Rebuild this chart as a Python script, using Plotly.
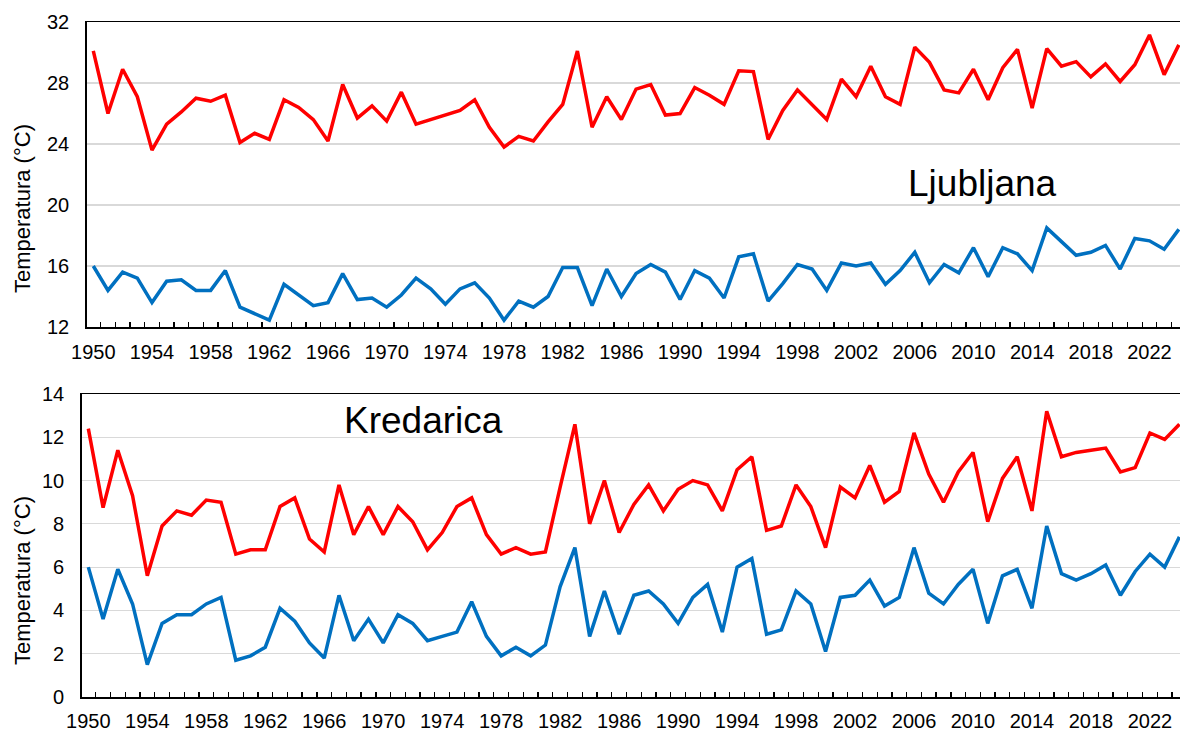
import plotly.graph_objects as go

years = list(range(1950, 2025))

lj_red = [30.1, 26.0, 28.9, 27.1, 23.6, 25.3, 26.1, 27.0, 26.8, 27.2,
          24.1, 24.7, 24.3, 26.9, 26.4, 25.6, 24.2, 27.9, 25.7, 26.5,
          25.5, 27.4, 25.3, 25.6, 25.9, 26.2, 26.9, 25.1, 23.8, 24.5,
          24.2, 25.45, 26.6, 30.1, 25.1, 27.1, 25.6, 27.6, 27.9, 25.9,
          26.0, 27.7, 27.2, 26.6, 28.8, 28.75, 24.3, 26.2, 27.55, 26.6,
          25.6, 28.25, 27.1, 29.1, 27.1, 26.6, 30.35, 29.35, 27.55, 27.35,
          28.9, 26.9, 29.0, 30.2, 26.35, 30.25, 29.1, 29.4, 28.4, 29.25,
          28.1, 29.2, 31.15, 28.55, 30.5]

lj_blue = [16.0, 14.4, 15.6, 15.2, 13.6, 15.0, 15.1, 14.4, 14.4, 15.7,
           13.3, 12.9, 12.45, 14.8, 14.1, 13.4, 13.6, 15.5, 13.8, 13.9,
           13.3, 14.1, 15.2, 14.5, 13.5, 14.5, 14.9, 13.9, 12.45, 13.7,
           13.3, 14.0, 15.9, 15.9, 13.4, 15.8, 14.0, 15.5, 16.1, 15.6,
           13.8, 15.7, 15.2, 13.9, 16.6, 16.8, 13.7, 14.85, 16.1, 15.8,
           14.4, 16.2, 16.0, 16.2, 14.8, 15.7, 16.9, 14.9, 16.1, 15.55,
           17.2, 15.3, 17.2, 16.8, 15.7, 18.5, 17.6, 16.7, 16.9, 17.35,
           15.8, 17.8, 17.65, 17.1, 18.4]

kr_red = [12.4, 8.75, 11.4, 9.3, 5.6, 7.9, 8.6, 8.4, 9.1, 9.0,
          6.6, 6.8, 6.8, 8.8, 9.2, 7.3, 6.7, 9.8, 7.5, 8.8,
          7.5, 8.8, 8.1, 6.8, 7.6, 8.8, 9.2, 7.5, 6.6, 6.9,
          6.6, 6.7, 9.7, 12.6, 8.0, 10.0, 7.6, 8.9, 9.8, 8.6,
          9.6, 10.0, 9.8, 8.6, 10.5, 11.1, 7.7, 7.9, 9.8, 8.8,
          6.9, 9.7, 9.2, 10.7, 9.0, 9.5, 12.2, 10.3, 9.0, 10.4,
          11.3, 8.1, 10.1, 11.1, 8.6, 13.2, 11.1, 11.3, 11.4, 11.5,
          10.4, 10.6, 12.2, 11.9, 12.6]

kr_blue = [6.0, 3.6, 5.9, 4.3, 1.5, 3.4, 3.8, 3.8, 4.3, 4.6,
           1.7, 1.9, 2.3, 4.1, 3.5, 2.5, 1.8, 4.7, 2.6, 3.6,
           2.5, 3.8, 3.4, 2.6, 2.8, 3.0, 4.4, 2.8, 1.9, 2.3,
           1.9, 2.4, 5.1, 6.9, 2.8, 4.9, 2.9, 4.7, 4.9, 4.3,
           3.4, 4.6, 5.2, 3.0, 6.0, 6.4, 2.9, 3.1, 4.9, 4.3,
           2.1, 4.6, 4.7, 5.4, 4.2, 4.6, 6.9, 4.8, 4.3, 5.2,
           5.9, 3.4, 5.6, 5.9, 4.1, 7.9, 5.7, 5.4, 5.7, 6.1,
           4.7, 5.8, 6.6, 6.0, 7.4]

label_years = list(range(1950, 2023, 4))
y_title = "Temperatura (°C)"
station_top = "Ljubljana"
station_bottom = "Kredarica"

RED = "#FF0000"
BLUE = "#0070C0"
FONT = "Liberation Sans, Arial, sans-serif"
W, H = 1180, 731


def px(x):
    return x / W


def py(y):
    return 1 - y / H


fig = go.Figure()
fig.add_trace(go.Scatter(x=years, y=lj_red, mode="lines", line=dict(color=RED, width=3.5),
                         xaxis="x", yaxis="y", showlegend=False))
fig.add_trace(go.Scatter(x=years, y=lj_blue, mode="lines", line=dict(color=BLUE, width=3.5),
                         xaxis="x", yaxis="y", showlegend=False))
fig.add_trace(go.Scatter(x=years, y=kr_red, mode="lines", line=dict(color=RED, width=3.5),
                         xaxis="x2", yaxis="y2", showlegend=False))
fig.add_trace(go.Scatter(x=years, y=kr_blue, mode="lines", line=dict(color=BLUE, width=3.5),
                         xaxis="x2", yaxis="y2", showlegend=False))

minor_vals = [y + 0.5 for y in years[:-1]]


def xaxis_cfg(domain, rng, anchor, standoff):
    return dict(
        domain=domain, range=rng, anchor=anchor, automargin=False,
        showline=True, linecolor="black", linewidth=1.5, mirror=True,
        showgrid=False, zeroline=False,
        tickmode="array", tickvals=label_years, ticktext=[str(v) for v in label_years],
        ticks="", ticklabelstandoff=standoff,
        tickfont=dict(family=FONT, size=20, color="black"),
        minor=dict(ticks="inside", tickmode="array", tickvals=minor_vals,
                   ticklen=5, tickwidth=1.3, tickcolor="black", showgrid=False),
    )


def yaxis_cfg(domain, rng, dtick, anchor):
    return dict(
        domain=domain, range=rng, anchor=anchor, automargin=False,
        showline=True, linecolor="black", linewidth=1.5,
        showgrid=True, gridcolor="#D9D9D9", gridwidth=1.2, zeroline=False,
        tick0=rng[0], dtick=dtick, ticks="", ticklabelstandoff=12,
        tickfont=dict(family=FONT, size=20, color="black"),
    )


fig.update_layout(
    width=W, height=H,
    margin=dict(l=0, r=0, t=0, b=0, autoexpand=False),
    paper_bgcolor="white", plot_bgcolor="white",
    xaxis=xaxis_cfg([px(86.7), 1.0], [1949.55, 2024.08], "y", 6),
    yaxis=yaxis_cfg([py(327), py(22)], [12, 32], 4, "x"),
    xaxis2=xaxis_cfg([px(81.7), 1.0], [1949.55, 2024.04], "y2", 5),
    yaxis2=yaxis_cfg([py(697), py(394)], [0, 14], 2, "x2"),
    annotations=[
        dict(text=station_top, xref="paper", yref="paper", x=px(982), y=py(183),
             xanchor="center", yanchor="middle", showarrow=False,
             font=dict(family=FONT, size=37, color="black")),
        dict(text=station_bottom, xref="paper", yref="paper", x=px(423), y=py(420),
             xanchor="center", yanchor="middle", showarrow=False,
             font=dict(family=FONT, size=37, color="black")),
        dict(text=y_title, xref="paper", yref="paper", x=px(22), y=py(209),
             xanchor="center", yanchor="middle", showarrow=False, textangle=-90,
             font=dict(family=FONT, size=22, color="black")),
        dict(text=y_title, xref="paper", yref="paper", x=px(22), y=py(581),
             xanchor="center", yanchor="middle", showarrow=False, textangle=-90,
             font=dict(family=FONT, size=22, color="black")),
    ],
)

page_css = ("document.body.style.margin='0';"
            "document.documentElement.style.overflow='hidden';"
            "document.body.style.overflow='hidden';")

fig.write_html("out.html", post_script=page_css,
               config={"displayModeBar": False, "staticPlot": True})
